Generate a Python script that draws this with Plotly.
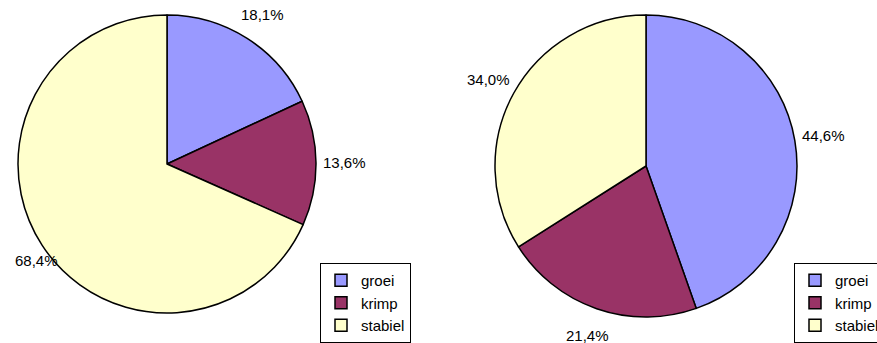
import math
import plotly.graph_objects as go

# Share of each category per group (percent)
categories = ["groei", "krimp", "stabiel"]
left_values = [18.1, 13.6, 68.4]
right_values = [44.6, 21.4, 34.0]
colors = ["#9999FF", "#993366", "#FFFFCC"]

W, H = 877, 343
FONT = "Liberation Sans, Arial"

# Pie geometry in pixels: centre and radius of each pie
pies = [
    dict(values=left_values, cx=167, cy=164, r=149, legend="legend", group="links"),
    dict(values=right_values, cx=646, cy=166, r=151, legend="legend2", group="rechts"),
]
label_dist = 1.19  # label distance from the centre, in radii


def pct_label(v):
    return f"{v:.1f}%".replace(".", ",")


fig = go.Figure()
annotations = []

for p in pies:
    cx, cy, r = p["cx"], p["cy"], p["r"]
    fig.add_trace(go.Pie(
        labels=categories, values=p["values"], textinfo="none",
        sort=False, direction="clockwise", rotation=0,
        marker=dict(colors=colors, line=dict(color="black", width=1.5)),
        domain=dict(x=[(cx - r) / W, (cx + r) / W],
                    y=[(H - cy - r) / H, (H - cy + r) / H]),
        legend=p["legend"], legendgroup=p["group"],
        hovertemplate="%{label}: %{percent}<extra></extra>",
    ))

    # Percentage labels outside each slice, at the slice's middle angle
    total = sum(p["values"])
    cum = 0.0
    for v in p["values"]:
        mid = 2 * math.pi * (cum + v / 2) / total
        cum += v
        px = cx + label_dist * r * math.sin(mid)
        py = cy - label_dist * r * math.cos(mid)
        px = min(max(px, 36), W - 36)  # keep the text inside the page
        annotations.append(dict(
            x=px / W, y=1 - py / H, xref="paper", yref="paper",
            text=pct_label(v), showarrow=False,
            font=dict(family=FONT, size=15, color="black"),
            xanchor="center", yanchor="middle",
        ))

legend_style = dict(
    bgcolor="white", bordercolor="black", borderwidth=1,
    font=dict(family=FONT, size=15, color="black"),
    xanchor="left", yanchor="top", itemwidth=30,
)

fig.update_layout(
    width=W, height=H,
    margin=dict(l=0, r=0, t=0, b=0, autoexpand=False),
    paper_bgcolor="white", plot_bgcolor="white",
    legend=dict(x=320 / W, y=1 - 263 / H, **legend_style),
    legend2=dict(x=794 / W, y=1 - 263 / H, **legend_style),
    annotations=annotations,
    showlegend=True,
)

fig.write_html("out.html")
